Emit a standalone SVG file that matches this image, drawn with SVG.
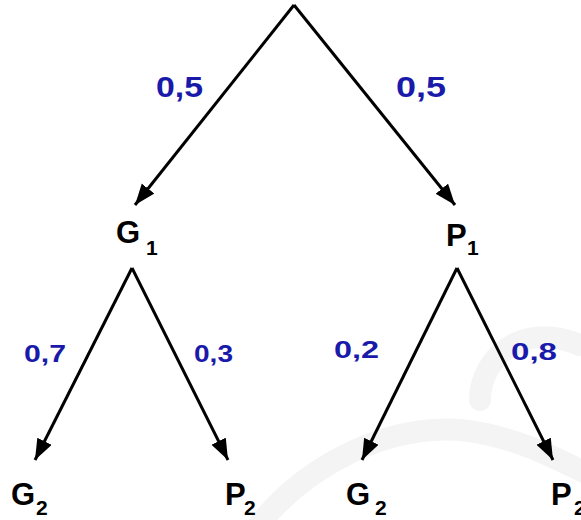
<svg xmlns="http://www.w3.org/2000/svg" width="581" height="520" viewBox="0 0 581 520">
  <style>
    .node { font-family: "Liberation Sans", Arial, sans-serif; font-weight: bold; fill: #000; }
    .main { font-size: 31px; }
    .sub { font-size: 21px; }
    .prob { font-family: "Liberation Sans", Arial, sans-serif; font-weight: bold; fill: #1a1aaa; }
    .big { font-size: 30px; }
    .small { font-size: 24px; }
    .edge { stroke: #000; stroke-width: 3; fill: none; }
    .wm { stroke: #f4f4f4; stroke-width: 22; fill: none; stroke-linecap: round; }
  </style>
  <defs>
    <marker id="arrow" markerUnits="userSpaceOnUse" markerWidth="24" markerHeight="18" refX="21" refY="8" orient="auto">
      <path d="M0,0 L21,8 L0,16 z" fill="#000"/>
    </marker>
  </defs>
  <rect width="581" height="520" fill="#fff"/>
  <g id="watermark">
    <path class="wm" d="M255,530 C300,470 380,425 460,430 C510,435 550,455 590,475"/>
    <path class="wm" d="M580,345 C520,320 480,360 480,400"/>
  </g>
  <g id="connectors">
    <path class="edge" d="M294,5 L135,205" marker-end="url(#arrow)"/>
    <path class="edge" d="M294,5 L455,205" marker-end="url(#arrow)"/>
    <path class="edge" d="M132,268 L35,460" marker-end="url(#arrow)"/>
    <path class="edge" d="M132,268 L228,460" marker-end="url(#arrow)"/>
    <path class="edge" d="M457,268 L362,460" marker-end="url(#arrow)"/>
    <path class="edge" d="M457,268 L553,460" marker-end="url(#arrow)"/>
  </g>
  <g id="labels">
    <text class="prob big" x="156" y="97" textLength="47" lengthAdjust="spacingAndGlyphs">0,5</text>
    <text class="prob big" x="396" y="97" textLength="50" lengthAdjust="spacingAndGlyphs">0,5</text>
    <text class="prob small" x="24" y="362" textLength="42" lengthAdjust="spacingAndGlyphs">0,7</text>
    <text class="prob small" x="194" y="362" textLength="39" lengthAdjust="spacingAndGlyphs">0,3</text>
    <text class="prob small" x="334" y="358" textLength="45" lengthAdjust="spacingAndGlyphs">0,2</text>
    <text class="prob small" x="511" y="360" textLength="46" lengthAdjust="spacingAndGlyphs">0,8</text>
  </g>
  <g id="node-G1">
    <text class="node main" x="116" y="243">G</text>
    <text class="node sub" x="146" y="255">1</text>
  </g>
  <g id="node-P1">
    <text class="node main" x="446" y="246">P</text>
    <text class="node sub" x="467" y="255">1</text>
  </g>
  <g id="node-G2-left">
    <text class="node main" x="11" y="505">G</text>
    <text class="node sub" x="36" y="515">2</text>
  </g>
  <g id="node-P2-left">
    <text class="node main" x="225" y="505">P</text>
    <text class="node sub" x="244" y="515">2</text>
  </g>
  <g id="node-G2-right">
    <text class="node main" x="346" y="505">G</text>
    <text class="node sub" x="375" y="515">2</text>
  </g>
  <g id="node-P2-right">
    <text class="node main" x="551" y="505">P</text>
    <text class="node sub" x="574" y="515">2</text>
  </g>
</svg>
